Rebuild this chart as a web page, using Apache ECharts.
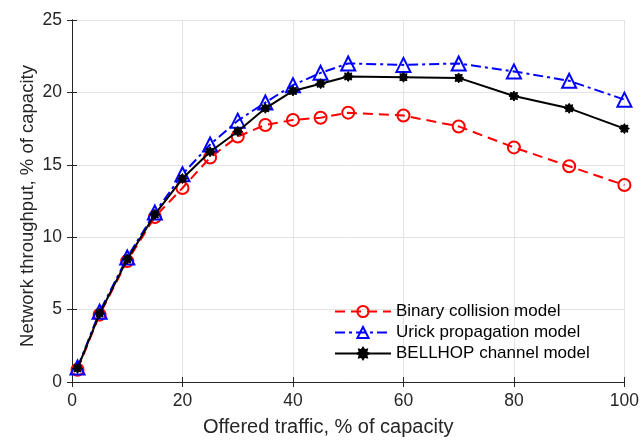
<!DOCTYPE html>
<html>
<head>
<meta charset="utf-8">
<script src="https://cdn.jsdelivr.net/npm/echarts@6/dist/echarts.min.js"></script>
<style>html,body{margin:0;padding:0;background:#fff}#c{width:642px;height:442px}</style>
</head>
<body>
<div id="c"></div>
<script>
const xValues = [1, 5, 10, 15, 20, 25, 30, 35, 40, 45, 50, 60, 70, 80, 90, 100];
const binaryCollision = [0.85, 4.65, 8.35, 11.4, 13.4, 15.5, 16.95, 17.75, 18.1, 18.25, 18.6, 18.4, 17.65, 16.2, 14.9, 13.6];
const urickPropagation = [1.0, 4.85, 8.6, 11.7, 14.35, 16.4, 18.05, 19.3, 20.5, 21.35, 22.0, 21.9, 22.0, 21.45, 20.8, 19.5];
const bellhopChannel = [0.94, 4.73, 8.47, 11.57, 14.05, 15.9, 17.3, 18.9, 20.1, 20.6, 21.1, 21.05, 21.0, 19.75, 18.9, 17.5];
const seriesNames = ['Binary collision model', 'Urick propagation model', 'BELLHOP channel model'];
const xTicks = {min: 0, max: 100, interval: 20};
const yTicks = {min: 0, max: 25, interval: 5};

function starPath() {
  const n = 8, R = 10, r = 6.5;
  let d = '';
  for (let i = 0; i < 2 * n; i++) {
    const rad = (i % 2 === 0) ? R : r;
    const a = Math.PI * i / n - Math.PI / 2;
    const x = (rad * Math.cos(a)).toFixed(2), y = (rad * Math.sin(a)).toFixed(2);
    d += (i === 0 ? 'M' : 'L') + x + ' ' + y + ' ';
  }
  return 'path://' + d + 'Z';
}
const pair = arr => xValues.map((x, i) => [x, arr[i]]);
const font = 'Liberation Sans, Arial, Helvetica, sans-serif';
const axisColor = '#262626';

const chart = echarts.init(document.getElementById('c'), null, {renderer: 'canvas'});
chart.setOption({
  animation: false,
  backgroundColor: '#fff',
  grid: {left: 72, right: 14, top: 20, bottom: 59, containLabel: false},
  legend: {
    left: 329, top: 298, orient: 'vertical',
    itemWidth: 56, itemHeight: 14, itemGap: 4,
    textStyle: {fontFamily: font, fontSize: 17, lineHeight: 17, color: '#000'},
    data: seriesNames
  },
  xAxis: [{
    type: 'value', min: xTicks.min, max: xTicks.max, interval: xTicks.interval,
    name: 'Offered traffic, % of capacity', nameLocation: 'middle', nameGap: 35,
    nameTextStyle: {fontFamily: font, fontSize: 20, color: axisColor, padding: [0, 40, 0, 0]},
    axisLine: {show: true, lineStyle: {color: axisColor, width: 1}},
    axisTick: {show: true, inside: true, length: 5, lineStyle: {color: axisColor}},
    axisLabel: {fontFamily: font, fontSize: 17.5, color: axisColor, margin: 10},
    splitLine: {show: true, lineStyle: {color: '#e3e3e3', width: 1}}
  }, {
    type: 'value', position: 'top', min: xTicks.min, max: xTicks.max, interval: xTicks.interval,
    axisLine: {show: true, lineStyle: {color: axisColor, width: 1}},
    axisTick: {show: true, inside: true, length: 5, lineStyle: {color: axisColor}},
    axisLabel: {show: false}, splitLine: {show: false}
  }],
  yAxis: [{
    type: 'value', min: yTicks.min, max: yTicks.max, interval: yTicks.interval,
    name: 'Network throughput, % of capacity', nameLocation: 'middle', nameGap: 35,
    nameMoveOverlap: false,
    nameTextStyle: {fontFamily: font, fontSize: 18.5, color: axisColor, padding: [0, 10, 0, 0]},
    axisLine: {show: true, lineStyle: {color: axisColor, width: 1}},
    axisTick: {show: true, inside: true, length: 5, lineStyle: {color: axisColor}},
    axisLabel: {fontFamily: font, fontSize: 17.5, color: axisColor, margin: 10},
    splitLine: {show: true, lineStyle: {color: '#e3e3e3', width: 1}}
  }, {
    type: 'value', position: 'right', min: yTicks.min, max: yTicks.max, interval: yTicks.interval,
    axisLine: {show: true, lineStyle: {color: axisColor, width: 1}},
    axisTick: {show: true, inside: true, length: 5, lineStyle: {color: axisColor}},
    axisLabel: {show: false}, splitLine: {show: false}
  }],
  series: [{
    name: seriesNames[0], type: 'line', data: pair(binaryCollision),
    symbol: 'circle', symbolSize: 12, showAllSymbol: true,
    lineStyle: {color: '#ff0000', width: 2, type: [10, 6]},
    itemStyle: {color: 'rgba(255,255,255,0)', borderColor: '#ff0000', borderWidth: 2},
    z: 3
  }, {
    name: seriesNames[1], type: 'line', data: pair(urickPropagation),
    symbol: 'triangle', symbolSize: 14, showAllSymbol: true,
    lineStyle: {color: '#0000ff', width: 2, type: [10, 4, 3, 4]},
    itemStyle: {color: 'rgba(255,255,255,0)', borderColor: '#0000ff', borderWidth: 2},
    z: 4
  }, {
    name: seriesNames[2], type: 'line', data: pair(bellhopChannel),
    symbol: starPath(), symbolSize: 10, showAllSymbol: true,
    lineStyle: {color: '#000000', width: 2, type: 'solid'},
    itemStyle: {color: '#000000', borderColor: '#000000', borderWidth: 1},
    z: 5
  }]
});
</script>
</body>
</html>
